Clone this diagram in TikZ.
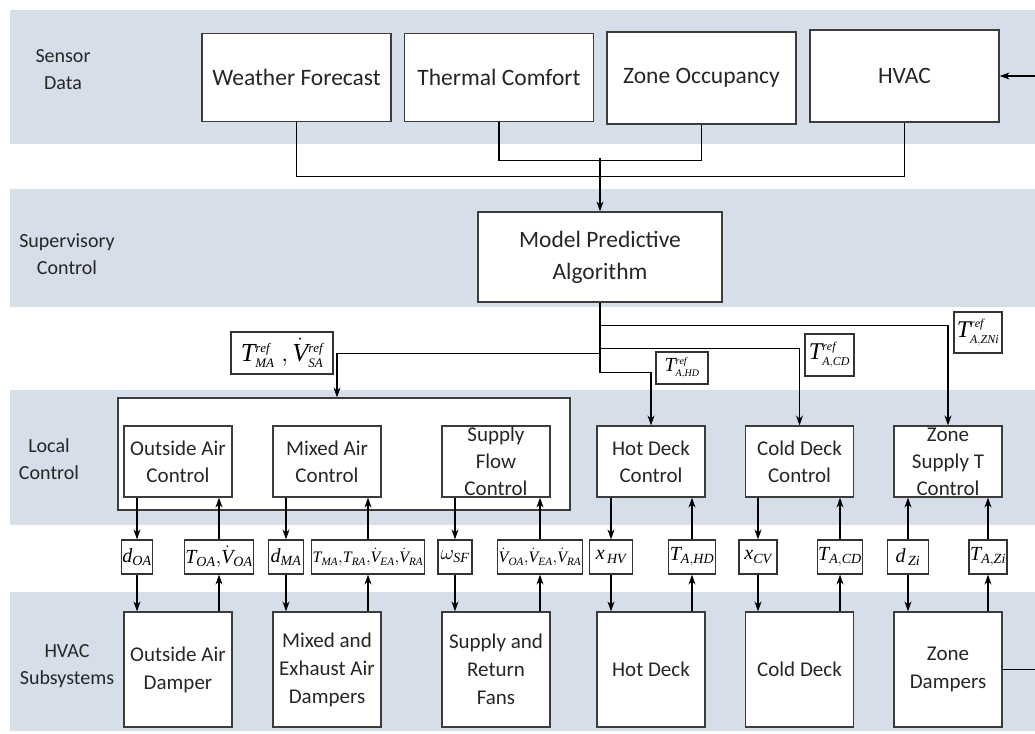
\documentclass[tikz,border=0pt]{standalone}
\usepackage{fontspec}
\setmainfont{Carlito}
\newfontfamily\symfont{Liberation Serif}[NFSSFamily=libser]
\DeclareMathAlphabet{\mathlib}{TU}{libser}{m}{it}
\usetikzlibrary{arrows.meta}

\newcommand{\qsig}[2]{\mathlib{#1}_{\mathlib{#2}}}
\newcommand{\qdot}[2]{{\dot{\mathlib{#1}}}_{\mathlib{#2}}}
\newcommand{\qset}[2]{\mathlib{#1}_{\scriptscriptstyle\mathlib{#2}}^{\scriptscriptstyle\mathlib{ref}}}
\newcommand{\qsetdot}[2]{{\dot{\mathlib{#1}}}_{\scriptscriptstyle\mathlib{#2}}^{\scriptscriptstyle\mathlib{ref}}}

\definecolor{bandblue}{HTML}{D5DEE9}
\definecolor{boxgray}{HTML}{3C3C3C}

\tikzset{
    band/.style={fill=bandblue, draw=none},
    bandtext/.style={font=\fontsize{20}{27}\selectfont, align=center, text=black!85},
    sensorbox/.style={draw=boxgray, line width=1.2pt, fill=white, inner sep=0pt,
        minimum width=189pt, minimum height=88pt, align=center,
        font=\fontsize{23.5}{32}\selectfont, text=black!85},
    ctrlbox/.style={draw=boxgray, line width=1.2pt, fill=white, inner sep=0pt,
        minimum width=108pt, minimum height=71pt, align=center,
        font=\fontsize{21}{27}\selectfont, text=black!85},
    subbox/.style={ctrlbox, minimum height=115pt, font=\fontsize{21}{28}\selectfont},
    sigbox/.style={draw=black!80, line width=1.2pt, fill=white, inner sep=1pt,
        minimum height=34pt, font=\fontsize{20}{22}\selectfont},
    refbox/.style={draw=black!80, line width=1.2pt, fill=white, inner sep=1pt,
        font=\fontsize{24}{26}\selectfont},
    wire/.style={line width=1.1pt},
    flow/.style={line width=1.1pt, -{Stealth[length=10pt,width=7pt]}}
}

\begin{document}
\begin{tikzpicture}[x=1pt, y=-1pt]

    \useasboundingbox (0,0) rectangle (1035,733);

    \fill[band] (10,10) rectangle (1035,144);
    \fill[band] (10,189) rectangle (1035,307);
    \fill[band] (10,390) rectangle (1035,525);
    \fill[band] (10,592) rectangle (1035,731);

    \node[bandtext] (lsensor) at (63,70) {Sensor\\Data};
    \node[bandtext] (lsuper) at (67,254) {Supervisory\\Control};
    \node[bandtext] (llocal) at (49,459) {Local\\Control};
    \node[bandtext] (lhvac) at (67,666) {HVAC\\Subsystems};

    \node[sensorbox] (weather) at (296.5,77.5) {Weather Forecast};
    \node[sensorbox] (comfort) at (499,77.5) {Thermal Comfort};
    \node[sensorbox, minimum height=92pt] (occupancy) at (701.5,78) {Zone Occupancy};
    \node[sensorbox, minimum height=92pt] (hvac) at (904.5,76) {HVAC};

    \node[sensorbox, minimum width=244pt, minimum height=90pt] (mpc) at (600,257)
        {Model Predictive\\Algorithm};

    \node[draw=boxgray,
        line width=1.2pt,
        fill=white,
        minimum width=452pt,
        minimum height=112pt
    ] (localbox) at (344,454){};

    \node[ctrlbox] (oactl) at (178,461.5) {Outside Air\\Control};
    \node[ctrlbox] (mactl) at (327,461.5) {Mixed Air\\Control};
    \node[ctrlbox] (sfctl) at (496,461.5) {Supply\\Flow\\Control};
    \node[ctrlbox] (hotctl) at (651,461.5) {Hot Deck\\Control};
    \node[ctrlbox] (coldctl) at (799.5,461.5) {Cold Deck\\Control};
    \node[ctrlbox] (zonectl) at (948,461.5) {Zone\\Supply T\\Control};

    \node[subbox] (oadamp) at (178,669.5) {Outside Air\\Damper};
    \node[subbox] (madamp) at (327,669.5) {Mixed and\\Exhaust Air\\Dampers};
    \node[subbox] (fans) at (496,669.5) {Supply and\\Return\\Fans};
    \node[subbox] (hotdeck) at (651,669.5) {Hot Deck};
    \node[subbox] (colddeck) at (799.5,669.5) {Cold Deck};
    \node[subbox] (zonedamp) at (948,669.5) {Zone\\Dampers};

    \node[sigbox, minimum width=28pt] (dOA) at (137,557) {$\qsig{d}{OA}$};
    \node[sigbox, minimum width=65pt] (tOA) at (219,557) {$\qsig{T}{OA}{,}\qdot{V}{OA}$};
    \node[sigbox, minimum width=35pt] (dMA) at (286,557) {$\qsig{d}{MA}$};
    \node[sigbox, minimum width=109pt, font=\fontsize{16}{20}\selectfont] (tMA) at (368,557)
        {$\qsig{T}{MA}{,}\qsig{T}{RA}{,}\qdot{V}{EA}{,}\qdot{V}{RA}$};
    \node[sigbox, minimum width=34pt] (wSF) at (455,557) {$\omega_{\mathlib{SF}}$};
    \node[sigbox, minimum width=81pt, font=\fontsize{16}{20}\selectfont] (vOA) at (540,557)
        {$\qdot{V}{OA}{,}\qdot{V}{EA}{,}\qdot{V}{RA}$};
    \node[sigbox, minimum width=43pt] (xHV) at (611,557) {$\qsig{x}{\,HV}$};
    \node[sigbox, minimum width=40pt] (tHD) at (692,557) {$\qsig{T}{A,HD}$};
    \node[sigbox, minimum width=38pt] (xCV) at (758,557) {$\qsig{x}{CV}$};
    \node[sigbox, minimum width=43pt] (tCD) at (840,557) {$\qsig{T}{A,CD}$};
    \node[sigbox, minimum width=41pt] (dZi) at (908,557) {$\qsig{d}{\,Zi}$};
    \node[sigbox, minimum width=38pt] (tZi) at (988,557) {$\qsig{T}{A,Zi}$};

    \node[refbox, minimum width=102pt, minimum height=42pt, font=\fontsize{26}{28}\selectfont] (refMA) at (282,353)
        {$\qset{T}{MA}\;,\qsetdot{V}{SA}$};
    \node[refbox, minimum width=52pt, minimum height=32pt, font=\fontsize{20}{22}\selectfont] (refHD) at (682,368)
        {$\qset{T}{A,HD}$};
    \node[refbox, minimum width=49pt, minimum height=42pt] (refCD) at (829.5,355)
        {$\qset{T}{A,CD}$};
    \node[refbox, minimum width=48pt, minimum height=41pt] (refZN) at (978,332.5)
        {$\qset{T}{A,ZNi}$};

    \coordinate (hvacin) at (1035,76);
    \coordinate (zoneout) at (1035,669.5);

    \draw[wire] (weather.south) -- ++(0,54) -| (hvac.south);
    \draw[wire] (comfort.south) -- ++(0,38) -| (occupancy.south);
    \draw[flow] (mpc.north) ++(0,-53) -- (mpc.north);
    \draw[flow] (hvacin) -- (hvac.east);

    \draw[flow] (mpc.south) -- ++(0,23) -| (zonectl.north);
    \draw[flow] (mpc.south) -- ++(0,46) -| (coldctl.north);
    \draw[flow] (mpc.south) -- ++(0,51) -| ([xshift=-7pt]localbox.north);
    \draw[flow] (mpc.south) -- ++(0,70) -| (hotctl.north);

    \foreach \ctl/\sig/\sub in {oactl/dOA/oadamp, mactl/dMA/madamp, sfctl/wSF/fans,
        hotctl/xHV/hotdeck, coldctl/xCV/colddeck}{
        \draw[flow] (\ctl.south -| \sig) -- (\sig);
        \draw[flow] (\sig) -- (\sub.north -| \sig);
    }
    \foreach \ctl/\sig/\sub in {oactl/tOA/oadamp, mactl/tMA/madamp, sfctl/vOA/fans,
        hotctl/tHD/hotdeck, coldctl/tCD/colddeck, zonectl/tZi/zonedamp}{
        \draw[flow] (\sub.north -| \sig) -- (\sig);
        \draw[flow] (\sig) -- (\ctl.south -| \sig);
    }
    \draw[flow] (dZi) -- (zonectl.south -| dZi);
    \draw[flow] (dZi) -- (zonedamp.north -| dZi);
    \draw[wire] (zonedamp.east) -- (zoneout);

\end{tikzpicture}
\end{document}
